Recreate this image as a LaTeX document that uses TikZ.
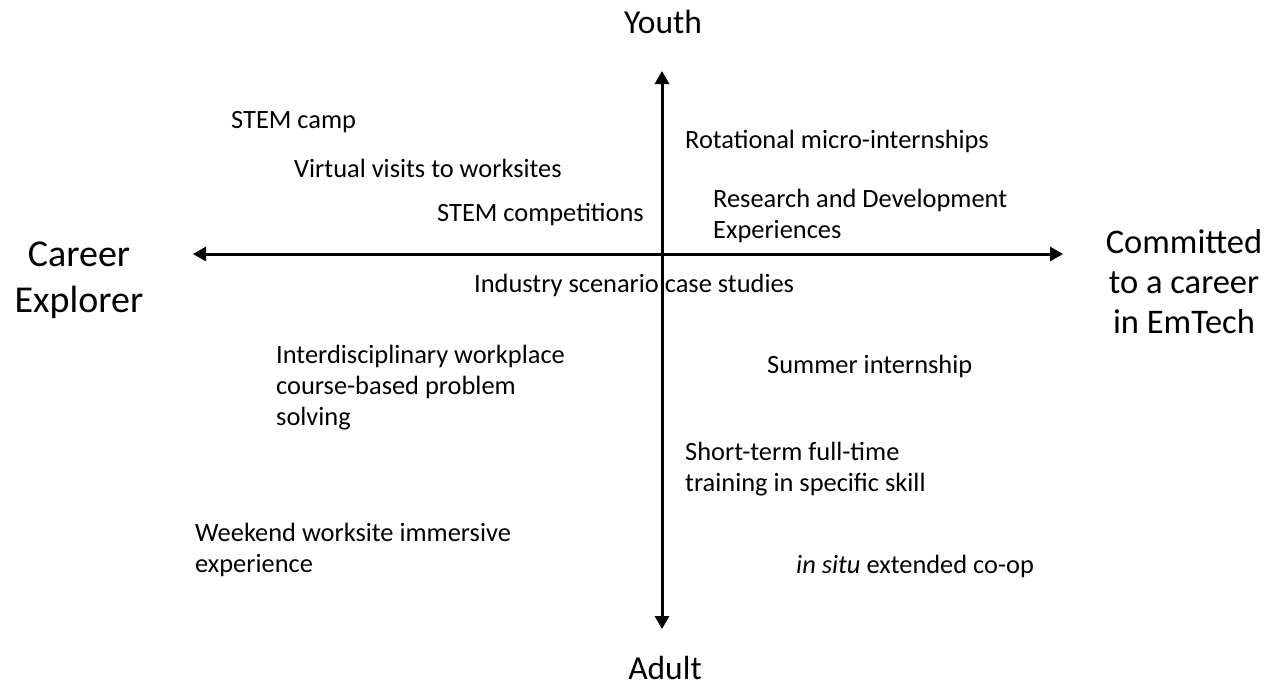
\documentclass[tikz,border=0pt]{standalone}
\usepackage{fontspec}
\setmainfont{Carlito}
\usetikzlibrary{arrows.meta}
\tikzset{
  item/.style={anchor=north west, inner sep=0pt, align=left, font=\fontsize{26.4}{31}\selectfont},
  axislabel/.style={anchor=north, inner sep=0pt, align=center, font=\fontsize{33.5}{43}\selectfont},
  axis/.style={line width=3pt, {Triangle[width=14pt,length=13pt]}-{Triangle[width=14pt,length=13pt]}}
}
\begin{document}
\begin{tikzpicture}[x=1pt,y=-1pt]
\useasboundingbox (0,0) rectangle (1273,688);
% axis end points
\coordinate (L) at (193,254);
\coordinate (R) at (1063,254);
\coordinate (T) at (662,71);
\coordinate (B) at (662,629);
% axis labels
\node[axislabel] (youth) at (663,10) {Youth};
\node[axislabel] (adult) at (665,656) {Adult};
\node[axislabel, font=\fontsize{38}{45.5}\selectfont] (explorer) at (79,242) {Career\\Explorer};
\node[axislabel, font=\fontsize{34.5}{40}\selectfont] (committed) at (1184,229) {Committed\\to a career\\in EmTech};
% items
\node[item] (camp) at (231,111) {STEM camp};
\node[item] (virtual) at (294,159) {Virtual visits to worksites};
\node[item] (comp) at (437,203) {STEM competitions};
\node[item] (rot) at (685,130) {Rotational micro-internships};
\node[item] (rd) at (713,189) {Research and Development\\Experiences};
\node[item] (ind) at (474,274) {Industry scenario case studies};
\node[item] (inter) at (276,345) {Interdisciplinary workplace\\course-based problem\\solving};
\node[item] (summer) at (767,355) {Summer internship};
\node[item] (short) at (685,442) {Short-term full-time\\training in specific skill};
\node[item] (weekend) at (195,523) {Weekend worksite immersive\\experience};
\node[item] (situ) at (796,555) {\textit{in situ} extended co-op};
% axes
\draw[axis] (L) -- (R);
\draw[axis] (B) -- (T);
\end{tikzpicture}
\end{document}
